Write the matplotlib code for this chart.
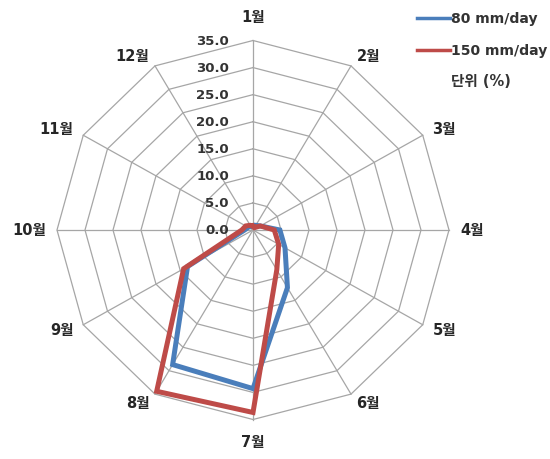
import numpy as np
import matplotlib
matplotlib.use("Agg")
import matplotlib.pyplot as plt
from matplotlib.transforms import offset_copy

plt.rcParams['font.family'] = ['DejaVu Sans', 'Noto Sans CJK KR']

months = ['1월', '2월', '3월', '4월', '5월', '6월', '7월', '8월', '9월', '10월', '11월', '12월']
series_80 = [0.8, 1.0, 1.5, 4.8, 6.6, 12.3, 29.3, 28.7, 13.5, 1.5, 1.0, 0.8]
series_150 = [0.7, 0.5, 1.5, 3.8, 5.3, 8.5, 33.7, 34.4, 14.3, 2.0, 1.5, 1.0]
labels = ['80 mm/day', '150 mm/day']
r_ticks = [0, 5, 10, 15, 20, 25, 30, 35]
unit_text = '단위 (%)'

W, H = 550, 459
fig = plt.figure(figsize=(W / 100, H / 100), dpi=100)
cx, cy, rx, ry = 253, 230, 196, 189.5
ax = fig.add_axes([(cx - rx) / W, (H - cy - ry) / H, 2 * rx / W, 2 * ry / H],
                  projection='polar')
ax.set_aspect('auto')
ax.set_theta_offset(np.pi / 2)
ax.set_theta_direction(-1)
ax.set_ylim(0, 35)
ax.set_axis_off()

n = len(months)
theta = np.arange(n) * 2 * np.pi / n
theta_c = np.append(theta, theta[0])

grid_col = '#a6a6a6'
for r in r_ticks[1:]:
    ax.plot(theta_c, [r] * (n + 1), color=grid_col, lw=0.9, zorder=1, clip_on=False)
for t in theta:
    ax.plot([t, t], [0, 35], color=grid_col, lw=0.9, zorder=1, clip_on=False)

colors = ['#4a7ebb', '#be4b48']
l1, = ax.plot(theta_c, series_80 + series_80[:1], color=colors[0], lw=3.6,
              zorder=3, clip_on=False, solid_joinstyle='miter', label=labels[0])
l2, = ax.plot(theta_c, series_150 + series_150[:1], color=colors[1], lw=3.6,
              zorder=4, clip_on=False, solid_joinstyle='miter', label=labels[1])

txt_col = '#262626'
trans = offset_copy(ax.transData, fig=fig, x=-24, y=-1, units='dots')
for r in r_ticks:
    ax.text(0, r, f"{r:.1f}", transform=trans, ha='right', va='center',
            fontsize=9.5, fontweight='bold', color='#333333')

for t, m in zip(theta, months):
    s = np.sin(t)
    if abs(s) < 0.1:
        ax.text(t, 39.3, m, ha='center', va='center', fontsize=10.5,
                fontweight='bold', color=txt_col)
    else:
        ax.text(t, 37, m, ha='left' if s > 0 else 'right', va='center',
                fontsize=10.5, fontweight='bold', color=txt_col)

leg = fig.legend(handles=[l1, l2], loc='upper left',
                 bbox_to_anchor=(416.7 / W, 1 - 12 / H), frameon=False,
                 fontsize=10.1, handlelength=2.4, handletextpad=0.05,
                 labelspacing=1.3, borderaxespad=0, borderpad=0)
for h in leg.legend_handles:
    h.set_linewidth(2.5)
for t in leg.get_texts():
    t.set_fontweight('bold')
    t.set_color('#333333')

fig.text(451 / W, 1 - 82 / H, unit_text, ha='left', va='center', fontsize=10.5,
         fontweight='bold', color='#333333')

fig.savefig('out.png', dpi=100)
